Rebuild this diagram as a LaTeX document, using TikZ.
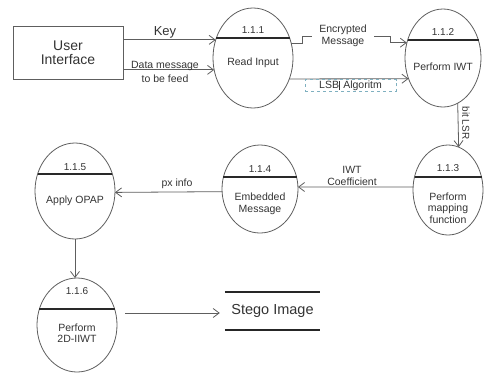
\documentclass[tikz,border=0pt]{standalone}
\usepackage{fontspec}
\setmainfont{Liberation Sans}
\usetikzlibrary{shapes.geometric,arrows.meta,calc}
\definecolor{ln}{HTML}{5E5E5E}
\definecolor{txt}{HTML}{333333}
\definecolor{dsh}{HTML}{7FB0C0}
\begin{document}
\begin{tikzpicture}[x=1pt,y=-1pt,
  proc/.style={ellipse,draw=ln,line width=0.8pt,inner sep=0pt,outer sep=0pt},
  divider/.style={draw=txt!80!black,line width=1.6pt},
  flow/.style={draw=ln,line width=0.8pt,-{Straight Barb[length=6pt,width=9pt]}},
  lbl/.style={text=txt,font=\fontsize{10.5}{11.5}\selectfont,align=center,inner sep=0pt},
  hdr/.style={text=txt,font=\fontsize{10}{11}\selectfont,inner sep=0pt},
  entity/.style={draw=ln,line width=0.9pt,minimum width=110pt,minimum height=53pt,
    text=txt,font=\fontsize{14}{14}\selectfont,align=center,inner sep=0pt}]
\useasboundingbox (0,0) rectangle (485,373);

% external entity
\node[entity] (ui) at (68,52.5) {User\\Interface};

% processes
\node[proc,minimum width=80pt,minimum height=100pt] (r1) at (253,58) {};
\node[proc,minimum width=76pt,minimum height=98pt]  (r2) at (443,58) {};
\node[proc,minimum width=70pt,minimum height=90pt]  (r3) at (448,190) {};
\node[proc,minimum width=76pt,minimum height=88pt]  (r4) at (260,189) {};
\node[proc,minimum width=80pt,minimum height=96pt]  (r5) at (75,191) {};
\node[proc,minimum width=80pt,minimum height=94pt]  (r6) at (77,325) {};

% header dividers
\draw[divider] ($(r1.center)+(-37,-20)$) -- ++(74,0);
\draw[divider] ($(r2.center)+(-35.5,-18)$) -- ++(71,0);
\draw[divider] ($(r3.center)+(-33.5,-13)$) -- ++(67,0);
\draw[divider] ($(r4.center)+(-36.6,-12)$) -- ++(73.2,0);
\draw[divider] ($(r5.center)+(-37.4,-17)$) -- ++(74.8,0);
\draw[divider] ($(r6.center)+(-37.6,-16)$) -- ++(75.2,0);

% process numbers
\node[hdr] (h1) at (253,30) {1.1.1};
\node[hdr] (h2) at (443,32) {1.1.2};
\node[hdr] (h3) at (448,168) {1.1.3};
\node[hdr] (h4) at (260,169) {1.1.4};
\node[hdr] (h5) at (75,167) {1.1.5};
\node[hdr] (h6) at (77,291) {1.1.6};

% process names
\node[lbl] (t1) at (253,63) {Read Input};
\node[lbl] (t2) at (443,67) {Perform IWT};
\node[lbl] (t3) at (448,208) {Perform\\mapping\\function};
\node[lbl] (t4) at (260,204) {Embedded\\Message};
\node[lbl] (t5) at (75,201) {Apply OPAP};
\node[lbl] (t6) at (77,333) {Perform\\2D-IIWT};

% data store
\node[minimum width=95pt,minimum height=38pt,inner sep=0pt,text=txt,
  font=\fontsize{14.5}{15}\selectfont] (st) at (272.5,311) {Stego Image};
\draw[line width=2.4pt,black!85] (st.north west) -- (st.north east);
\draw[line width=2.4pt,black!85] (st.south west) -- (st.south east);

% flows
\draw[flow] (ui.east |- r1.154.2) -- (r1.154.2);
\node[text=txt,font=\fontsize{13}{13}\selectfont,inner sep=0pt] (kl) at (165,32) {Key};

\draw[flow] (ui.east |- r1.197.2) -- (r1.197.2);
\node[lbl,font=\fontsize{10.5}{14}\selectfont] (dl) at (165,72) {Data message\\to be feed};

\draw[flow] (r1.21.5) -| (302,36) -- (390,36) |- (r2.157.5);
\node[lbl,fill=white,inner xsep=7pt,inner ysep=0pt] (em) at (343,36) {Encrypted\\Message};

\draw[flow] (r1.330) -- (r2.211.5);
\node[draw=dsh,dashed,line width=0.6pt,minimum width=91pt,minimum height=11.5pt,inner sep=0pt,
  text=txt,font=\fontsize{10.5}{11}\selectfont] (lsb) at (350.5,85.5)
  {LSB\kern0.4pt\rule[-1.5pt]{0.9pt}{9pt} Algoritm};

\draw[flow] (r2.288.4) -- (r3.76.9);
\node[lbl,rotate=-90,font=\fontsize{10}{10}\selectfont] (bl) at (466,123) {bit LSR};

\draw[flow] (r3.175.1) -- (r4.3);
\node[lbl,font=\fontsize{10.5}{12}\selectfont] (iw) at (352,176) {IWT\\Coefficient};

\draw[flow] (r4.184.5) -- (r5.358.8);
\node[lbl] (px) at (177,184) {px info};

\draw[flow] (r5.south) -- (r5.south |- r6.north);

\coordinate (s0) at ($(r6.east)+(8,-12)$);
\draw[flow,shorten >=5pt] (s0) -- (s0 -| st.west);
\end{tikzpicture}
\end{document}
